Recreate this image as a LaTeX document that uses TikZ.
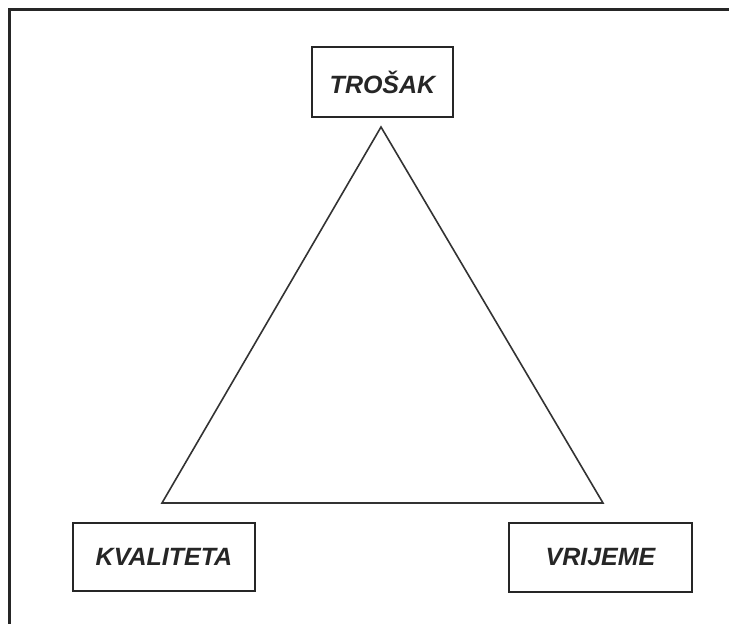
\documentclass[tikz,border=0pt]{standalone}
\usepackage{fontspec}
\setmainfont{Liberation Sans}
\begin{document}
\begin{tikzpicture}[x=1pt,y=-1pt,
  lbl/.style={draw=black!85, line width=2pt, minimum width=#1, inner sep=0pt,
    font=\fontsize{25}{25}\selectfont\bfseries\itshape, text=black!85},
  tri/.style={draw=black!80, line width=1.6pt, line join=miter}]
\fill[white] (0,0) rectangle (729,624);
\useasboundingbox (0,0) rectangle (729,624);
\coordinate (fl) at (9,624);
\coordinate (fc) at (9,9);
\coordinate (fr) at (729,9);
\draw[line width=3pt, black!85] (fl) -- (fc) -- (fr);
\node[lbl=141pt, minimum height=70pt] (t) at (382.5,82) {TROŠAK};
\node[lbl=182pt, minimum height=68pt] (k) at (164,557) {KVALITETA};
\node[lbl=183pt, minimum height=69pt] (v) at (600.5,557.5) {VRIJEME};
\coordinate (a) at (381,127);
\coordinate (b) at (162,503);
\coordinate (c) at (603,503);
\draw[tri] (a) -- (b) -- (c) -- cycle;
\end{tikzpicture}
\end{document}
